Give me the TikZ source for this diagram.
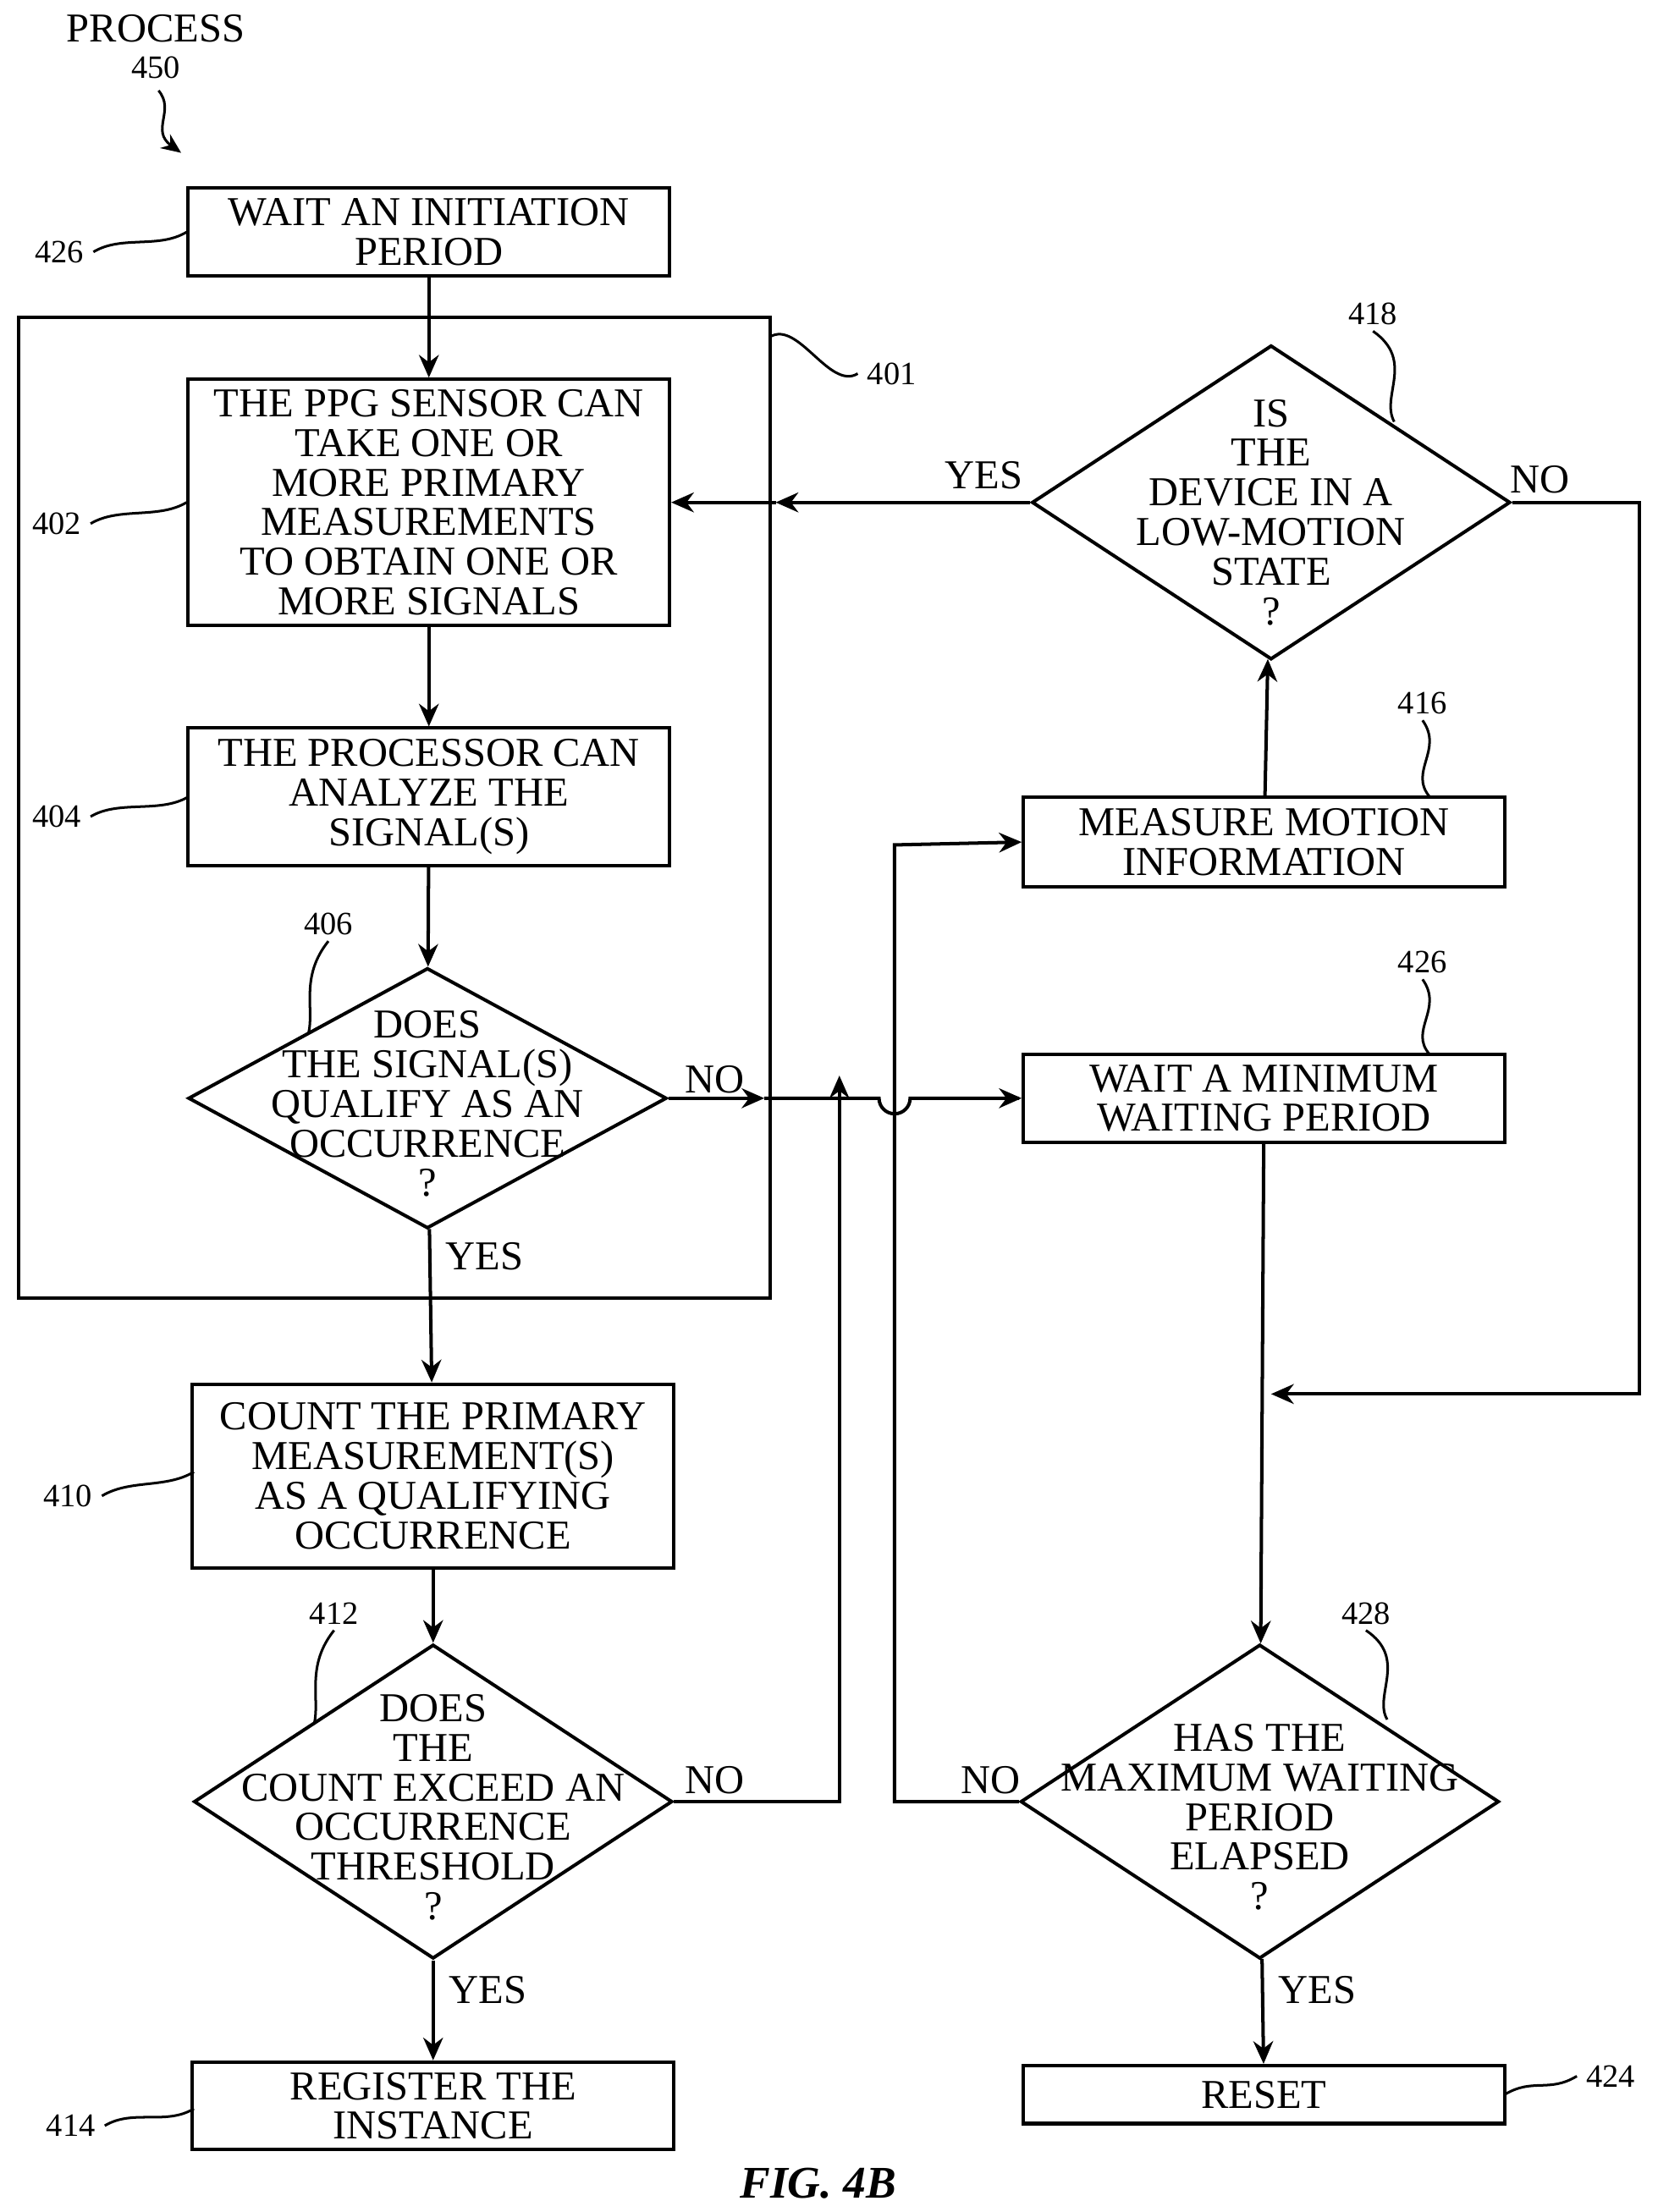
\documentclass[tikz,border=0pt]{standalone}
\usepackage{fontspec}
\setmainfont{Liberation Serif}
\usetikzlibrary{shapes.geometric,arrows.meta}
\tikzset{
  stepbox/.style={draw,line width=1.2pt,rectangle,inner sep=0pt,align=center,
    minimum width=170pt,font=\fontsize{14.5}{14}\selectfont},
  decide/.style={draw,line width=1.2pt,diamond,inner sep=0pt,
    minimum width=169pt,minimum height=111pt},
  dtext/.style={align=center,font=\fontsize{14.5}{14}\selectfont},
  flow/.style={line width=1.2pt,-{Stealth[length=8pt,width=7pt]}},
  wire/.style={line width=1.2pt},
  refnum/.style={font=\fontsize{11.5}{12}\selectfont,inner sep=1pt},
  yn/.style={font=\fontsize{14.5}{14}\selectfont,inner sep=1pt}
}
\newcommand{\refsquig}[2]{%
  % squiggly leader line from #1 to #2
  \draw[line width=0.9pt] #1 .. controls +(10pt,6pt) and +(-10pt,-6pt) .. #2;}
\begin{document}
\begin{tikzpicture}[x=0.5pt,y=-0.5pt]
  \useasboundingbox (0,0) rectangle (1171,1563);
  % title
  \node[yn] (title) at (110,20) {PROCESS};
  \node[refnum] (num450) at (110,48) {450};
  \draw[line width=0.9pt,-{Stealth[length=7pt,width=6pt]}] (112,64)
      .. controls (124,78) and (106,92) .. (128,108);
  % left column
  \node[stepbox,minimum height=31pt] (init) at (303,164) {WAIT AN INITIATION\\PERIOD};
  \draw[wire] (13,224) rectangle (544,917);
  \node[stepbox,minimum height=87pt] (ppg) at (303,355) {THE PPG SENSOR CAN\\TAKE ONE OR\\MORE PRIMARY\\MEASUREMENTS\\TO OBTAIN ONE OR\\MORE SIGNALS};
  \node[stepbox,minimum height=48.5pt] (analyze) at (303,563) {THE PROCESSOR CAN\\ANALYZE THE\\SIGNAL(S)};
  \node[decide,minimum height=92pt] (qualify) at (302,776) {};
  \node[dtext] at (302,780) {DOES\\THE SIGNAL(S)\\QUALIFY AS AN\\OCCURRENCE\\?};
  \node[stepbox,minimum height=65pt] (count) at (306,1043) {COUNT THE PRIMARY\\MEASUREMENT(S)\\AS A QUALIFYING\\OCCURRENCE};
  \node[decide] (exceed) at (306,1273) {};
  \node[dtext] at (306,1277) {DOES\\THE\\COUNT EXCEED AN\\OCCURRENCE\\THRESHOLD\\?};
  \node[stepbox,minimum height=31pt] (register) at (306,1488) {REGISTER THE\\INSTANCE};
  % right column
  \node[decide] (lowmotion) at (898,355) {};
  \node[dtext] at (898,362) {IS\\THE\\DEVICE IN A\\LOW-MOTION\\STATE\\?};
  \node[stepbox,minimum height=31.5pt] (motion) at (893,595) {MEASURE MOTION\\INFORMATION};
  \node[stepbox,minimum height=31pt] (minwait) at (893,776) {WAIT A MINIMUM\\WAITING PERIOD};
  \node[decide] (maxwait) at (890,1273) {};
  \node[dtext] at (890,1284) {HAS THE\\MAXIMUM WAITING\\PERIOD\\ELAPSED\\?};
  \node[stepbox,minimum height=20.5pt] (reset) at (893,1480) {RESET};
  \node[font=\fontsize{16}{16}\selectfont\bfseries\itshape] (fig) at (578,1543) {FIG. 4B};
  % reference numbers
  \node[refnum] (n426) at (42,178) {426};  \refsquig{(66,178)}{(init.west)}
  \node[refnum] (n401) at (630,264) {401}; \refsquig{(544,238)}{(606,264)}
  \node[refnum] (n402) at (40,370) {402};  \refsquig{(64,370)}{(ppg.west)}
  \node[refnum] (n404) at (40,577) {404};  \refsquig{(64,577)}{(133,563)}
  \node[refnum] (n410) at (48,1057) {410}; \refsquig{(72,1057)}{(137,1040)}
  \node[refnum] (n414) at (50,1502) {414}; \refsquig{(74,1502)}{(137,1490)}
  \node[refnum] (n424) at (1138,1467) {424}; \refsquig{(1063,1480)}{(1114,1467)}
  \node[refnum] (n406) at (232,653) {406};
  \draw[line width=0.9pt] (232,665) .. controls (212,690) and (222,712) .. (218,730);
  \node[refnum] (n412) at (236,1140) {412};
  \draw[line width=0.9pt] (236,1152) .. controls (216,1177) and (226,1200) .. (222,1218);
  \node[refnum] (n418) at (970,222) {418};
  \draw[line width=0.9pt] (970,234) .. controls (1000,255) and (975,280) .. (985,298);
  \node[refnum] (n416) at (1005,497) {416};
  \draw[line width=0.9pt] (1005,509) .. controls (1020,530) and (995,545) .. (1010,563);
  \node[refnum] (n426b) at (1005,680) {426};
  \draw[line width=0.9pt] (1005,692) .. controls (1020,713) and (995,728) .. (1010,745);
  \node[refnum] (n428) at (965,1140) {428};
  \draw[line width=0.9pt] (965,1152) .. controls (995,1172) and (970,1198) .. (980,1215);
  % connectors
  \draw[flow] (init) -- (ppg);
  \draw[flow] (ppg) -- (analyze);
  \draw[flow] (analyze) -- (qualify);
  \draw[flow] (qualify) -- (count) node[yn,pos=0.18,right=4pt] {YES};
  \draw[flow] (count) -- (exceed);
  \draw[flow] (exceed) -- (register) node[yn,pos=0.3,right=4pt] {YES};
  \draw[flow] (maxwait) -- (reset) node[yn,pos=0.3,right=4pt] {YES};
  \draw[flow] (motion) -- (lowmotion);
  \draw[flow] (minwait) -- (maxwait);
  % NO from 406, hopping over the 428 return line
  \draw[flow] (qualify.east) -- (540,776);
  \node[yn] at (505,763) {NO};
  \draw[wire] (540,776) -- (621,776) arc (180:0:11) -- (720,776);
  \draw[flow] (650,776) -- (minwait.west);
  % NO from 412
  \coordinate (exceedturn) at (593,1273);
  \draw[flow] (exceed.east) -- (exceedturn) -- (593,760);
  \node[yn] at (505,1258) {NO};
  % NO from 428
  \coordinate (maxturn) at (632,1273);
  \coordinate (motionturn) at (632,597);
  \draw[flow] (maxwait.west) -- (maxturn) -- (motionturn) -- (motion.west);
  \node[yn] at (700,1258) {NO};
  % YES / NO of 418
  \draw[flow] (lowmotion.west) -- (548,355);
  \draw[flow] (548,355) -- (ppg.east);
  \node[yn] at (695,336) {YES};
  \coordinate (noright) at (1158,355);
  \coordinate (nodown) at (1158,985);
  \draw[flow] (lowmotion.east) -- (noright) -- (nodown) -- (898,985);
  \node[yn] at (1088,339) {NO};
\end{tikzpicture}
\end{document}
